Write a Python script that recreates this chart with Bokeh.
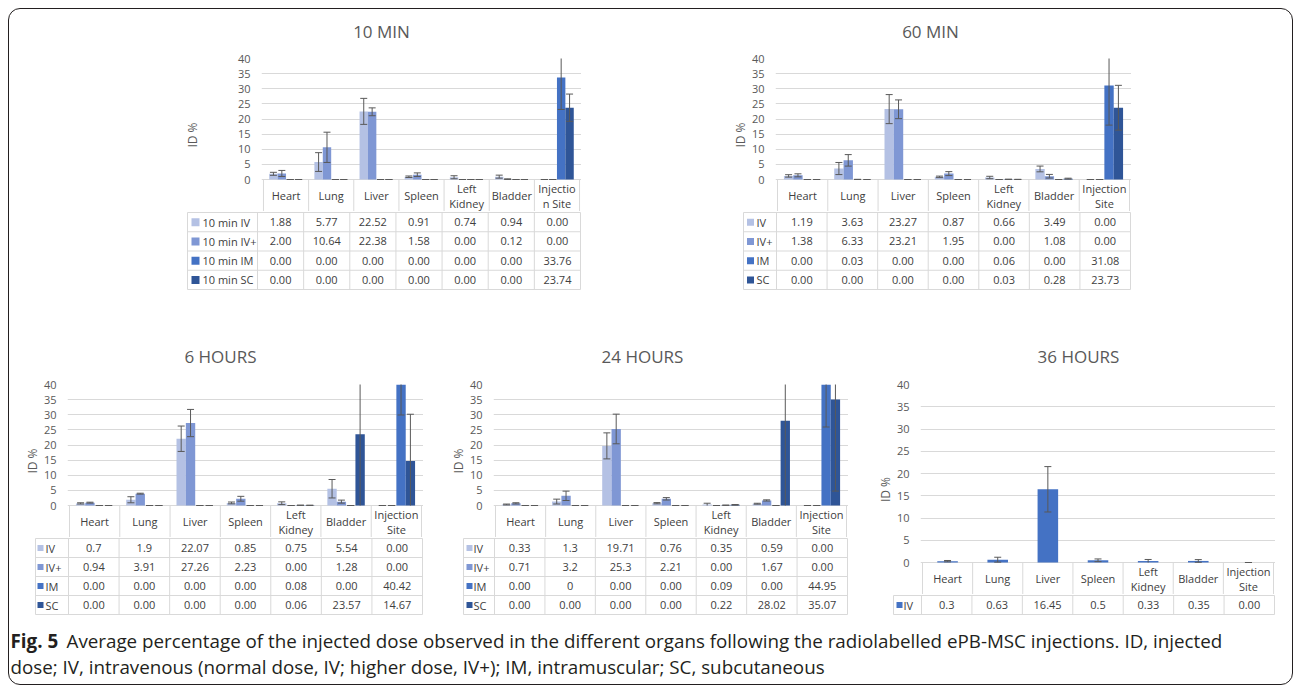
from bokeh.plotting import figure
from bokeh.models import Range1d, FactorRange, FixedTicker, ColumnDataSource, Spacer
from bokeh.layouts import row, column
from bokeh.transform import dodge
from bokeh.embed import file_html
from bokeh.resources import INLINE
from bokeh.core.properties import value

# ---------------- data ----------------
organs = ["Heart", "Lung", "Liver", "Spleen", "Left Kidney", "Bladder", "Injection Site"]
head_narrow = [["Heart"], ["Lung"], ["Liver"], ["Spleen"], ["Left", "Kidney"], ["Bladder"], ["Injectio", "n Site"]]
head_std = [["Heart"], ["Lung"], ["Liver"], ["Spleen"], ["Left", "Kidney"], ["Bladder"], ["Injection", "Site"]]
axis_ticks = [0, 5, 10, 15, 20, 25, 30, 35, 40]
grid_ticks_36h = [0, 5, 10, 15, 20, 25, 30, 35]
series_colors = ["#B4C1E4", "#7F97D4", "#4472C4", "#2F5597"]
color_36h = "#4472C4"

# 10 MIN
m10_names = ["10 min IV", "10 min IV+", "10 min IM", "10 min SC"]
m10_IV = ["1.88", "5.77", "22.52", "0.91", "0.74", "0.94", "0.00"]
m10_IVp = ["2.00", "10.64", "22.38", "1.58", "0.00", "0.12", "0.00"]
m10_IM = ["0.00", "0.00", "0.00", "0.00", "0.00", "0.00", "33.76"]
m10_SC = ["0.00", "0.00", "0.00", "0.00", "0.00", "0.00", "23.74"]
m10_IV_sd = [0.5, 3.1, 4.3, 0.25, 0.5, 0.5, 0.0]
m10_IVp_sd = [1.0, 5.0, 1.3, 0.6, 0.0, 0.1, 0.0]
m10_IM_sd = [0.0, 0.0, 0.0, 0.0, 0.0, 0.0, 10.6]
m10_SC_sd = [0.0, 0.0, 0.0, 0.0, 0.0, 0.0, 4.5]

# 60 MIN
m60_names = ["IV", "IV+", "IM", "SC"]
m60_IV = ["1.19", "3.63", "23.27", "0.87", "0.66", "3.49", "0.00"]
m60_IVp = ["1.38", "6.33", "23.21", "1.95", "0.00", "1.08", "0.00"]
m60_IM = ["0.00", "0.03", "0.00", "0.00", "0.06", "0.00", "31.08"]
m60_SC = ["0.00", "0.00", "0.00", "0.00", "0.03", "0.28", "23.73"]
m60_IV_sd = [0.4, 2.0, 4.8, 0.25, 0.4, 0.95, 0.0]
m60_IVp_sd = [0.5, 1.9, 3.1, 0.65, 0.0, 0.6, 0.0]
m60_IM_sd = [0.0, 0.02, 0.0, 0.0, 0.04, 0.0, 13.1]
m60_SC_sd = [0.0, 0.0, 0.0, 0.0, 0.02, 0.15, 7.4]

# 6 HOURS
h6_names = ["IV", "IV+", "IM", "SC"]
h6_IV = ["0.7", "1.9", "22.07", "0.85", "0.75", "5.54", "0.00"]
h6_IVp = ["0.94", "3.91", "27.26", "2.23", "0.00", "1.28", "0.00"]
h6_IM = ["0.00", "0.00", "0.00", "0.00", "0.08", "0.00", "40.42"]
h6_SC = ["0.00", "0.00", "0.00", "0.00", "0.06", "23.57", "14.67"]
h6_IV_sd = [0.2, 1.0, 4.2, 0.3, 0.45, 3.05, 0.0]
h6_IVp_sd = [0.15, 0.15, 4.5, 0.8, 0.0, 0.5, 0.0]
h6_IM_sd = [0.0, 0.0, 0.0, 0.0, 0.05, 0.0, 10.5]
h6_SC_sd = [0.0, 0.0, 0.0, 0.0, 0.04, 25.0, 15.5]

# 24 HOURS
h24_names = ["IV", "IV+", "IM", "SC"]
h24_IV = ["0.33", "1.3", "19.71", "0.76", "0.35", "0.59", "0.00"]
h24_IVp = ["0.71", "3.2", "25.3", "2.21", "0.00", "1.67", "0.00"]
h24_IM = ["0.00", "0", "0.00", "0.00", "0.09", "0.00", "44.95"]
h24_SC = ["0.00", "0.00", "0.00", "0.00", "0.22", "28.02", "35.07"]
h24_IV_sd = [0.15, 0.8, 4.3, 0.2, 0.4, 0.15, 0.0]
h24_IVp_sd = [0.2, 1.55, 4.9, 0.4, 0.0, 0.2, 0.0]
h24_IM_sd = [0.0, 0.0, 0.0, 0.0, 0.05, 0.0, 19.0]
h24_SC_sd = [0.0, 0.0, 0.0, 0.0, 0.1, 29.0, 30.3]

# 36 HOURS
h36_names = ["IV"]
h36_IV = ["0.3", "0.63", "16.45", "0.5", "0.33", "0.35", "0.00"]
h36_IV_sd = [0.15, 0.55, 5.1, 0.3, 0.35, 0.3, 0.0]

caption_bold = "Fig. 5"
caption_line1 = "Average percentage of the injected dose observed in the different organs following the radiolabelled ePB-MSC injections. ID, injected"
caption_line2 = "dose; IV, intravenous (normal dose, IV; higher dose, IV+); IM, intramuscular; SC, subcutaneous"

# ---------------- style ----------------
FONT = "Open Sans"
TXT = "#404040"
AXC = "#595959"
GRID = "#D9D9D9"
ERR = "#595959"
COMMON = dict(toolbar_location=None, output_backend="svg", outline_line_color=None,
              background_fill_color=None, border_fill_color=None)


def hide_grids(p):
    for g in p.xgrid:
        g.visible = False
    for g in p.ygrid:
        g.visible = False


def build_panel(cfg):
    L, TL, FL, FR = cfg["L"], cfg["TL"], cfg["FL"], cfg["FR"]
    W = FR + 1 - L
    cw = (FR - FL) / 7.0

    # --- title (centred over the whole chart area) ---
    th = cfg["title_h"]
    tfig = figure(width=W - 1, height=th, x_range=Range1d(0, 1), y_range=Range1d(th, 0),
                  x_axis_location=None, y_axis_location=None,
                  min_border_left=0, min_border_right=0, min_border_top=0, min_border_bottom=0,
                  **COMMON)
    hide_grids(tfig)
    tfig.text(x=[0.5], y=[cfg["title_y"]], text=[cfg["title"]], x_offset=cfg["title_dx"],
              text_font=value(FONT), text_font_size="17px", text_color=AXC,
              text_align="center", text_baseline="middle")
    title_row = row(Spacer(width=1, height=th), tfig)

    # --- chart ---
    frame_h = cfg["frame_h"]
    hdr_px = 32
    ppu = frame_h / 40.0
    hdr_u = hdr_px / ppu
    xr = FactorRange(factors=organs, range_padding=2.0 / cw, range_padding_units="absolute",
                     factor_padding=0)
    cf = figure(width=W, height=8 + frame_h + hdr_px, x_range=xr, y_range=Range1d(-hdr_u, 40),
                x_axis_location=None, y_axis_location="left",
                min_border_left=FL - 1 - L, min_border_right=0, min_border_top=8, min_border_bottom=0,
                **COMMON)
    for g in cf.xgrid:
        g.visible = False
    cf.ygrid.ticker = FixedTicker(ticks=cfg["grid_ticks"])
    cf.ygrid.grid_line_color = GRID
    cf.ygrid.grid_line_width = 1
    ax = cf.yaxis[0]
    ax.ticker = FixedTicker(ticks=axis_ticks)
    ax.axis_line_color = None
    ax.major_tick_line_color = None
    ax.minor_tick_line_color = None
    ax.major_tick_out = 0
    ax.major_tick_in = 0
    ax.major_label_standoff = 11
    ax.major_label_text_font = FONT
    ax.major_label_text_font_size = "11px"
    ax.major_label_text_color = AXC
    ax.axis_label = "ID %"
    ax.axis_label_text_font = FONT
    ax.axis_label_text_font_size = "12px"
    ax.axis_label_text_font_style = "normal"
    ax.axis_label_text_color = AXC
    ax.axis_label_standoff = cfg["label_standoff"]

    for k, (vals, sds) in enumerate(zip(cfg["vals"], cfg["sds"])):
        off = cfg["offsets"][k]
        v = [float(s) for s in vals]
        up = [a + b for a, b in zip(v, sds)]
        lo = [max(0.0, a - b) for a, b in zip(v, sds)]
        lo_cap = [a - b if a - b >= 0 else float("nan") for a, b in zip(v, sds)]
        src = ColumnDataSource(dict(organ=organs, val=v, up=up, lo=lo, lo_cap=lo_cap))
        xd = dodge("organ", off, range=cf.x_range)
        cf.vbar(x=xd, top="val", bottom=0, width=cfg["bar_w"], source=src,
                fill_color=cfg["colors"][k], line_color=None)
        cf.segment(x0=xd, x1=xd, y0="lo", y1="up", source=src, line_color=ERR, line_width=1)
        cf.scatter(x=xd, y="up", source=src, marker="dash", size=7, line_color=ERR, line_width=1)
        cf.scatter(x=xd, y="lo_cap", source=src, marker="dash", size=7, line_color=ERR, line_width=1)

    # header row (inside chart frame, below 0)
    hx, ht, hoff = [], [], []
    for o, lines in zip(organs, cfg["headers"]):
        n = len(lines)
        for j, t in enumerate(lines):
            hx.append(o)
            ht.append(t)
            hoff.append((j - (n - 1) / 2.0) * 15)
    hsrc = ColumnDataSource(dict(x=hx, t=ht, off=hoff))
    cf.text(x="x", y=-hdr_u / 2.0, text="t", y_offset="off", source=hsrc, text_font=value(FONT),
            text_font_size="11px", text_color=TXT, text_align="center", text_baseline="middle")
    bsrc = ColumnDataSource(dict(organ=organs))
    cf.segment(x0=dodge("organ", -0.5, range=cf.x_range), x1=dodge("organ", -0.5, range=cf.x_range),
               y0=0, y1=-hdr_u, source=bsrc, line_color=GRID, line_width=1)
    lsrc = ColumnDataSource(dict(organ=organs[-1:]))
    cf.segment(x0=dodge("organ", 0.5, range=cf.x_range), x1=dodge("organ", 0.5, range=cf.x_range),
               y0=0, y1=-hdr_u, source=lsrc, line_color=GRID, line_width=1)

    # --- table ---
    names = cfg["names"]
    nrows = len(names)
    row_px = cfg["row_px"]
    lw_u = (FL - TL) / cw
    padx = 1.0 / cw
    pady = 1.0 / row_px
    tbh = int(round(nrows * row_px)) + 2
    tb = figure(width=FR + 2 - TL, height=tbh,
                x_range=Range1d(-lw_u - padx, 7 + padx), y_range=Range1d(-pady, nrows + pady),
                x_axis_location=None, y_axis_location=None,
                min_border_left=0, min_border_right=0, min_border_top=0, min_border_bottom=0,
                **COMMON)
    hide_grids(tb)
    hy = list(range(nrows + 1))
    tb.segment(x0=[-lw_u] * len(hy), x1=[7] * len(hy), y0=hy, y1=hy, line_color=GRID, line_width=1)
    vx = [-lw_u] + list(range(8))
    tb.segment(x0=vx, x1=vx, y0=[0] * len(vx), y1=[nrows] * len(vx), line_color=GRID, line_width=1)

    ry = [nrows - r - 0.5 for r in range(nrows)]
    tb.scatter(x=[-lw_u + cfg["sq_off"] / cw] * nrows, y=ry, marker="square", size=cfg["sq_size"],
               fill_color=cfg["colors"][:nrows], line_color=None)
    tb.text(x=[-lw_u] * nrows, y=ry, text=names, x_offset=cfg["txt_off"], text_font=value(FONT),
            text_font_size="11px", text_color=TXT, text_align="left", text_baseline="middle")
    tx, tyy, tt = [], [], []
    for r, vals in enumerate(cfg["vals"]):
        for i, s in enumerate(vals):
            tx.append(i + 0.5)
            tyy.append(nrows - r - 0.5)
            tt.append(s)
    tb.text(x=tx, y=tyy, text=tt, text_font=value(FONT), text_font_size="11px", text_color=TXT,
            text_align="center", text_baseline="middle")
    table_row = row(Spacer(width=TL - 1 - L, height=tbh), tb)

    return column(title_row, cf, table_row)


off4 = [-0.279, -0.093, 0.093, 0.279]

p1 = dict(title="10 MIN", title_dx=0, L=180, TL=187, FL=257, FR=580, title_h=42, title_y=23, frame_h=121,
          row_px=19.25, headers=head_narrow, names=m10_names, colors=series_colors,
          vals=[m10_IV, m10_IVp, m10_IM, m10_SC], sds=[m10_IV_sd, m10_IVp_sd, m10_IM_sd, m10_SC_sd],
          bar_w=0.186, offsets=off4, label_standoff=34, sq_off=8, txt_off=15, sq_size=8,
          grid_ticks=axis_ticks)
p2 = dict(title="60 MIN", title_dx=0, L=728, TL=743, FL=776, FR=1130, title_h=42, title_y=23, frame_h=121,
          row_px=19.25, headers=head_std, names=m60_names, colors=series_colors,
          vals=[m60_IV, m60_IVp, m60_IM, m60_SC], sds=[m60_IV_sd, m60_IVp_sd, m60_IM_sd, m60_SC_sd],
          bar_w=0.186, offsets=off4, label_standoff=0, sq_off=7, txt_off=13, sq_size=7,
          grid_ticks=axis_ticks)
p3 = dict(title="6 HOURS", title_dx=-2, L=20, TL=35, FL=68, FR=422, title_h=86, title_y=66, frame_h=121,
          row_px=19, headers=head_std, names=h6_names, colors=series_colors,
          vals=[h6_IV, h6_IVp, h6_IM, h6_SC], sds=[h6_IV_sd, h6_IVp_sd, h6_IM_sd, h6_SC_sd],
          bar_w=0.186, offsets=off4, label_standoff=0, sq_off=5, txt_off=10, sq_size=6,
          grid_ticks=axis_ticks)
p4 = dict(title="24 HOURS", title_dx=-5, L=445, TL=463, FL=494, FR=847, title_h=86, title_y=66, frame_h=121,
          row_px=19, headers=head_std, names=h24_names, colors=series_colors,
          vals=[h24_IV, h24_IVp, h24_IM, h24_SC], sds=[h24_IV_sd, h24_IVp_sd, h24_IM_sd, h24_SC_sd],
          bar_w=0.186, offsets=off4, label_standoff=0, sq_off=6, txt_off=10, sq_size=6,
          grid_ticks=axis_ticks)
p5 = dict(title="36 HOURS", title_dx=4, L=872, TL=893, FL=921, FR=1274, title_h=86, title_y=66, frame_h=178,
          row_px=19, headers=head_std, names=h36_names, colors=[color_36h],
          vals=[h36_IV], sds=[h36_IV_sd],
          bar_w=0.41, offsets=[0.0], label_standoff=0, sq_off=6, txt_off=10, sq_size=6,
          grid_ticks=grid_ticks_36h)

c1 = build_panel(p1)
c2 = build_panel(p2)
c3 = build_panel(p3)
c4 = build_panel(p4)
c5 = build_panel(p5)

top = row(Spacer(width=p1["L"] - 8, height=10), c1,
          Spacer(width=p2["L"] - (p1["FR"] + 1), height=10), c2)
bottom = row(Spacer(width=p3["L"] - 8, height=10), c3,
             Spacer(width=p4["L"] - (p3["FR"] + 1), height=10), c4,
             Spacer(width=p5["L"] - (p4["FR"] + 1), height=10), c5)

# caption
CW, CH = 1285, 70
FS = 18.8
cap = figure(width=CW, height=CH, x_range=Range1d(0, CW), y_range=Range1d(CH, 0),
             x_axis_location=None, y_axis_location=None,
             min_border_left=0, min_border_right=0, min_border_top=0, min_border_bottom=0, **COMMON)
hide_grids(cap)
cap.text(x=[2], y=[25], text=[caption_bold], text_font=value(FONT), text_font_size=f"{FS}px",
         text_font_style="bold", text_color="#231F20", text_align="left", text_baseline="middle")
cap.text(x=[58], y=[25], text=[caption_line1], text_font=value(FONT), text_font_size=f"{FS}px",
         text_color="#231F20", text_align="left", text_baseline="middle")
cap.text(x=[2], y=[51], text=[caption_line2], text_font=value(FONT), text_font_size=f"{FS}px",
         text_color="#231F20", text_align="left", text_baseline="middle")

boxed = column(top, bottom, cap,
               styles={"outline": "1.6px solid #231F20", "outline-offset": "-1.6px",
                       "border-radius": "12px"})

page = column(Spacer(width=10, height=8), row(Spacer(width=8, height=10), boxed))

open("out.html", "w").write(file_html(page, INLINE))
